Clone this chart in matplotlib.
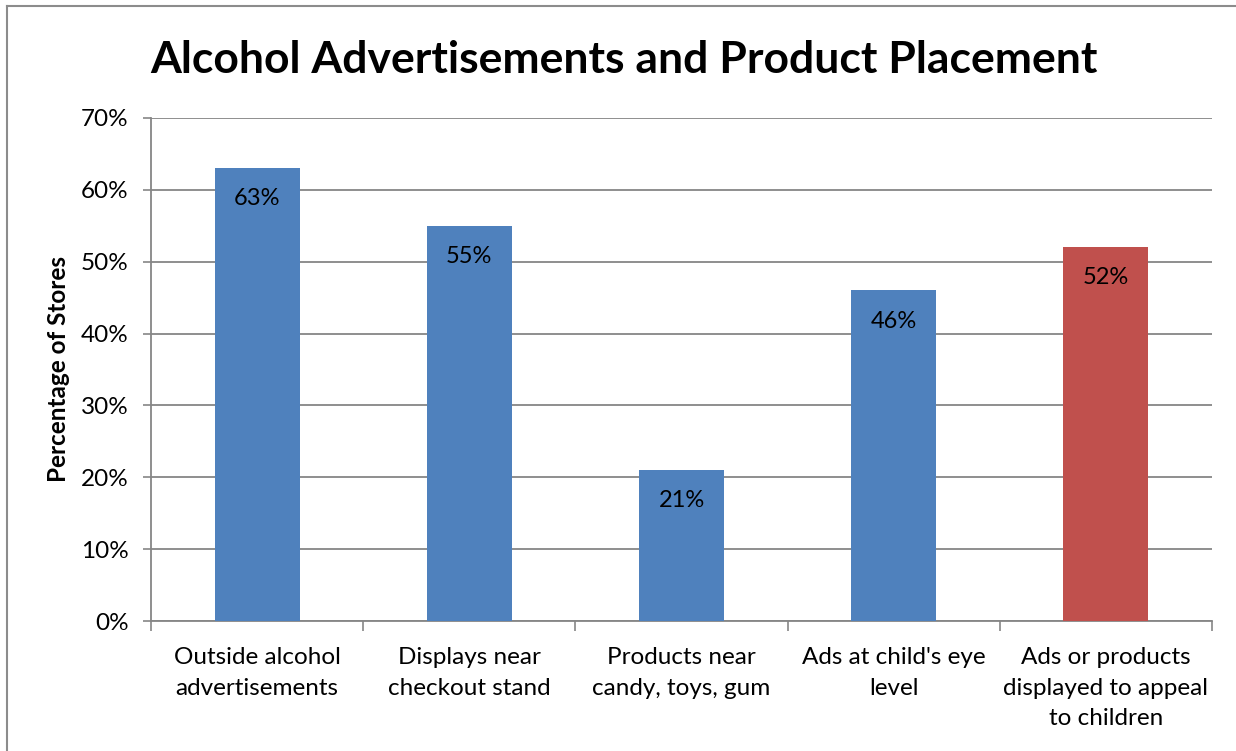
import numpy as np
import matplotlib
matplotlib.use("Agg")
import matplotlib.pyplot as plt
from matplotlib.lines import Line2D

categories = ["Outside alcohol\nadvertisements",
              "Displays near\ncheckout stand",
              "Products near\ncandy, toys, gum",
              "Ads at child's eye\nlevel",
              "Ads or products\ndisplayed to appeal\nto children"]
values = [63, 55, 21, 46, 52]
colors = ["#4F81BD", "#4F81BD", "#4F81BD", "#4F81BD", "#C0504D"]
yticks = [0, 10, 20, 30, 40, 50, 60, 70]

plt.rcParams['font.family'] = ['Lato', 'DejaVu Sans']

W, H = 1236, 751
fig = plt.figure(figsize=(W / 100, H / 100), dpi=100)
ax = fig.add_axes([151 / W, 1 - 621 / H, (1212 - 151) / W, (621 - 118) / H])

x = np.arange(len(values))
bars = ax.bar(x, values, width=0.4, color=colors, zorder=3)
for xi, v in zip(x, values):
    ax.annotate(f"{v}%", (xi, v), xytext=(0, -22), textcoords="offset points",
                ha="center", va="center", fontsize=17, color="black", zorder=4)

ax.set_xlim(-0.5, len(values) - 0.5)
ax.set_ylim(0, 70)
ax.set_yticks(yticks)
ax.set_yticklabels([f"{t}%" for t in yticks], fontsize=17.5)
ax.yaxis.grid(True, color="#868686", linewidth=1.3, zorder=0)
ax.tick_params(axis="y", length=6, width=1.2, color="#868686", pad=10)

# category labels in the middle, tick marks on the boundaries
ax.set_xticks(x)
ax.set_xticklabels(categories, fontsize=17.5, linespacing=1.56)
ax.tick_params(axis="x", which="major", length=0, pad=19)
ax.set_xticks(np.arange(-0.5, len(values)), minor=True)
ax.tick_params(axis="x", which="minor", length=7, width=1.2, color="#868686")

for side in ["top", "right"]:
    ax.spines[side].set_visible(False)
for side in ["left", "bottom"]:
    ax.spines[side].set_color("#868686")
    ax.spines[side].set_linewidth(1.3)

ax.set_ylabel("Percentage of Stores", fontsize=17.5, fontweight="bold")
ax.yaxis.set_label_coords((70 - 151) / (1212 - 151), 0.5)
fig.text(150 / W, 1 - 60 / H, "Alcohol Advertisements and Product Placement",
         fontsize=32, fontweight="bold", ha="left", va="center")

# chart frame
fig.add_artist(Line2D([7 / W, 7 / W], [0, 1 - 6 / H], color="#8c8c8c", linewidth=1.5,
                      transform=fig.transFigure))
fig.add_artist(Line2D([7 / W, 1], [1 - 6 / H, 1 - 6 / H], color="#8c8c8c", linewidth=1.5,
                      transform=fig.transFigure))

fig.savefig("out.png", dpi=100)
